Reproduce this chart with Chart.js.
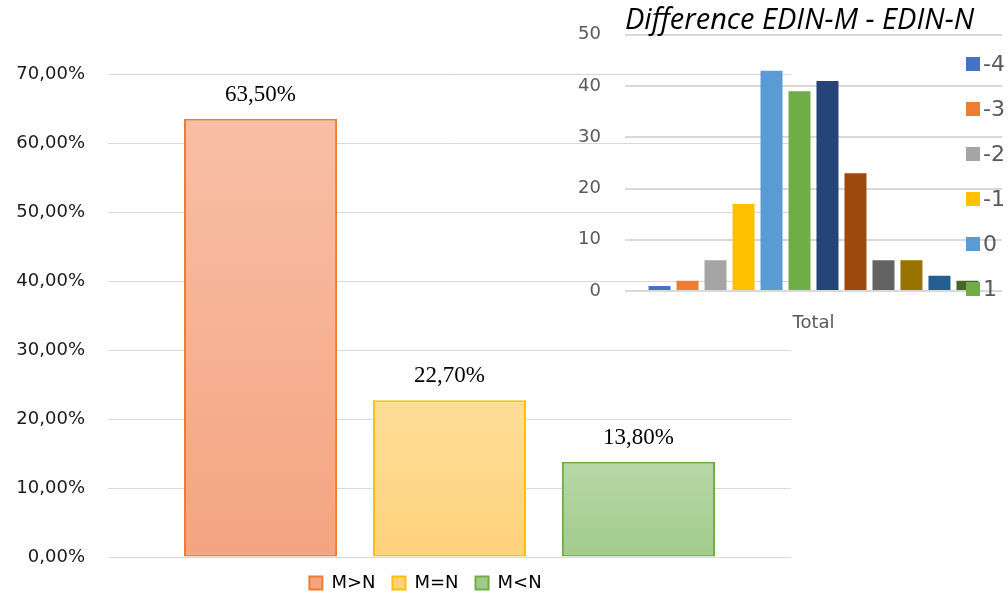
<!DOCTYPE html>
<html>
<head>
<meta charset="utf-8">
<script src="https://cdn.jsdelivr.net/npm/chart.js@4/dist/chart.umd.min.js"></script>
<style>
  html, body { margin: 0; padding: 0; background: #fff; overflow: hidden; }
  #wrap { position: relative; width: 1008px; height: 597px; overflow: hidden; }
  #main { position: absolute; left: 0; top: 0; }
  #inset { position: absolute; left: 560px; top: 0; }
</style>
</head>
<body>
<div id="wrap">
  <canvas id="main" width="1008" height="602"></canvas>
  <canvas id="inset" width="448" height="340"></canvas>
</div>
<script>
// main chart data
const mainSeries = ['M>N', 'M=N', 'M<N'];
const mainValues = [63.5, 22.7, 13.8];
const mainBorders = ['#ED7D31', '#FFC000', '#70AD47'];
const mainTop = ['#F8BFA6', '#FFDD98', '#B7D8A7'];
const mainBottom = ['#F4A481', '#FFD27B', '#A2CB8B'];

// inset chart data
const diffLabels = ['-4', '-3', '-2', '-1', '0', '1', '2', '3', '4', '5', '6', '7'];
const diffCounts = [1, 2, 6, 17, 43, 39, 41, 23, 6, 6, 3, 2];
const diffColors = ['#4472C4', '#ED7D31', '#A5A5A5', '#FFC000', '#5B9BD5', '#70AD47',
                    '#264478', '#9E480E', '#636363', '#997300', '#255E91', '#43682B'];

const pct = (v) => v.toFixed(2).replace('.', ',') + '%';

function barGradient(i) {
    return (ctx) => {
        const chart = ctx.chart;
        if (!chart.chartArea) return mainBottom[i];
        const y = chart.scales.y;
        const top = y.getPixelForValue(mainValues[i]);
        const bottom = y.getPixelForValue(0);
        const g = chart.ctx.createLinearGradient(0, top, 0, bottom);
        g.addColorStop(0, mainTop[i]);
        g.addColorStop(1, mainBottom[i]);
        return g;
    };
}

const valueLabels = {
    id: 'valueLabels',
    afterDatasetsDraw(chart) {
        const c = chart.ctx;
        c.save();
        c.font = '23px "Liberation Serif"';
        c.fillStyle = '#000';
        c.textAlign = 'center';
        c.textBaseline = 'middle';
        chart.data.datasets.forEach((ds, i) => {
            const bar = chart.getDatasetMeta(i).data[0];
            c.fillText(pct(ds.data[0]), bar.x, bar.y - 24);
        });
        c.restore();
    }
};

// the legend sits a bit left of the plot centre in the original
const shiftLegend = {
    id: 'shiftLegend',
    afterLayout(chart) {
        chart.legend.left -= 24;
        chart.legend.right -= 24;
    }
};

new Chart(document.getElementById('main'), {
    type: 'bar',
    data: {
        labels: [''],
        datasets: mainSeries.map((name, i) => ({
            label: name,
            data: [mainValues[i]],
            backgroundColor: barGradient(i),
            borderColor: mainBorders[i],
            borderWidth: 2,
            borderSkipped: false
        }))
    },
    options: {
        responsive: false,
        animation: false,
        layout: { padding: { left: 0, right: 217, top: 74, bottom: 0 } },
        datasets: { bar: { categoryPercentage: 0.83, barPercentage: 0.81 } },
        scales: {
            x: { display: false },
            y: {
                min: 0, max: 70,
                ticks: {
                    stepSize: 10,
                    padding: 23,
                    color: '#1a1a1a',
                    font: { family: 'DejaVu Sans', size: 18 },
                    callback: (v) => pct(v)
                },
                grid: { color: '#D9D9D9', lineWidth: 1, drawTicks: false },
                border: { display: false },
                afterFit: (s) => { s.width = 108; }
            }
        },
        plugins: {
            legend: {
                position: 'bottom',
                fullSize: false,
                labels: {
                    boxWidth: 13, boxHeight: 13, padding: 17,
                    color: '#000',
                    font: { family: 'DejaVu Sans', size: 18 }
                }
            },
            tooltip: { enabled: false }
        }
    },
    plugins: [valueLabels, shiftLegend]
});

// inset legend, drawn over the plot like the original
const insetLegend = {
    id: 'insetLegend',
    afterDraw(chart) {
        const c = chart.ctx;
        c.save();
        c.font = '22px "DejaVu Sans"';
        c.textBaseline = 'middle';
        c.textAlign = 'left';
        for (let i = 0; i < 6; i++) {
            const cy = 64 + i * 45;
            c.fillStyle = diffColors[i];
            c.fillRect(406, cy - 7, 14, 14);
            c.fillStyle = '#595959';
            c.fillText(diffLabels[i], 423, cy + 1);
        }
        c.restore();
    }
};

new Chart(document.getElementById('inset'), {
    type: 'bar',
    data: {
        labels: ['Total'],
        datasets: diffLabels.map((name, i) => ({
            label: name,
            data: [diffCounts[i]],
            backgroundColor: diffColors[i],
            borderWidth: 0
        }))
    },
    options: {
        responsive: false,
        animation: false,
        layout: { padding: { left: 0, right: 6, top: 0, bottom: 6 } },
        datasets: { bar: { categoryPercentage: 0.891, barPercentage: 0.786 } },
        scales: {
            x: {
                ticks: {
                    padding: 22,
                    color: '#595959',
                    font: { family: 'DejaVu Sans', size: 18 }
                },
                grid: { display: false, drawTicks: false },
                border: { display: false },
                afterFit: (s) => { s.height = 43; }
            },
            y: {
                min: 0, max: 50,
                ticks: {
                    stepSize: 10,
                    padding: 24,
                    color: '#595959',
                    font: { family: 'DejaVu Sans', size: 18 }
                },
                grid: { color: '#D9D9D9', lineWidth: 2, drawTicks: false },
                border: { display: false },
                afterFit: (s) => { s.width = 65; }
            }
        },
        plugins: {
            legend: { display: false },
            title: {
                display: true,
                text: 'Difference EDIN-M - EDIN-N',
                align: 'start',
                fullSize: false,
                color: '#000',
                font: { family: 'Open Sans', size: 29, style: 'italic', weight: 'normal', lineHeight: 1.0 },
                padding: { top: 3, bottom: 0 }
            },
            tooltip: { enabled: false }
        }
    },
    plugins: [insetLegend]
});
</script>
</body>
</html>
